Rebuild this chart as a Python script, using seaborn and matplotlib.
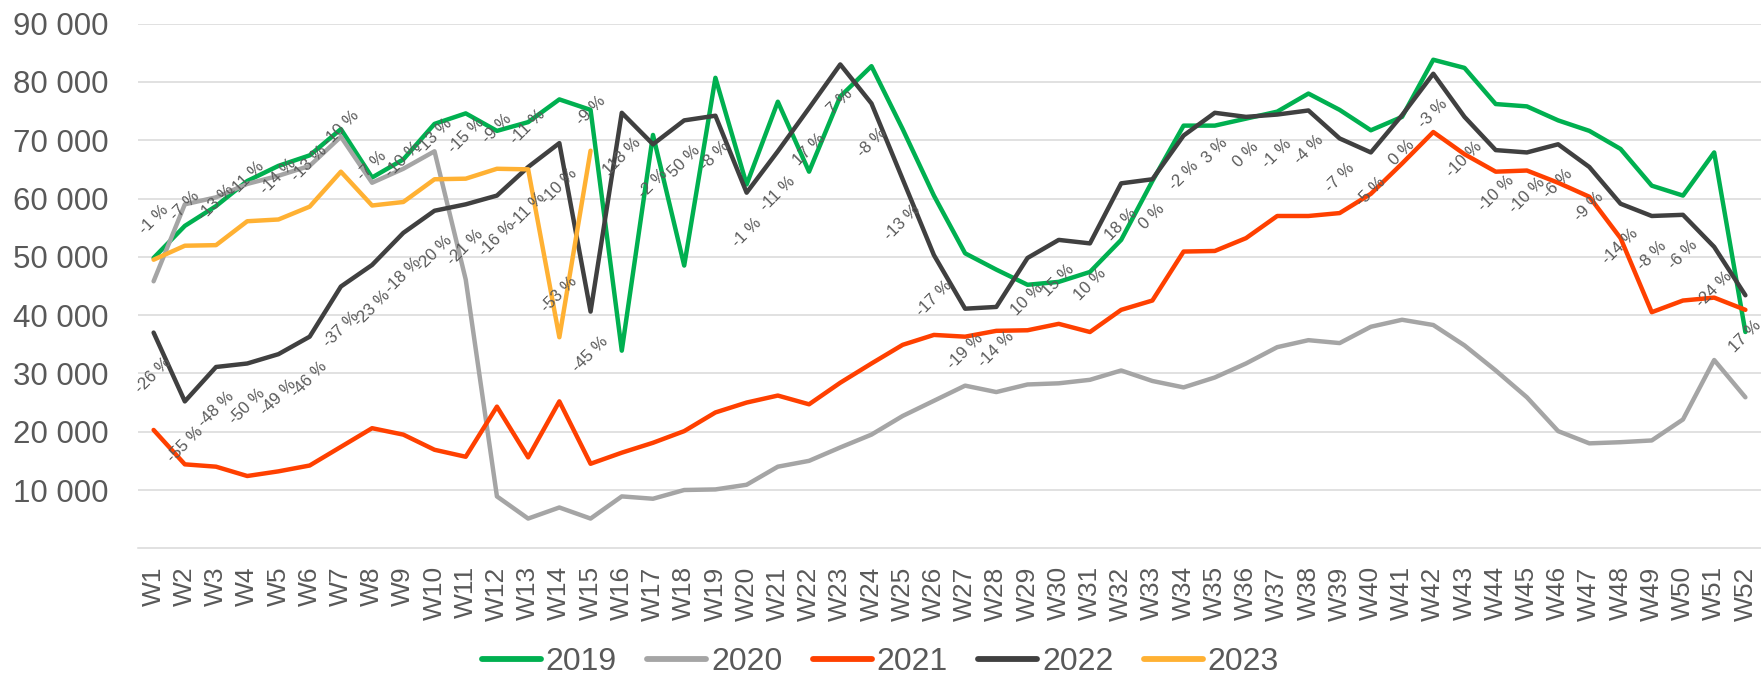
import matplotlib
matplotlib.use("Agg")
import matplotlib.pyplot as plt
import seaborn as sns
import pandas as pd
import numpy as np

weeks = [f"W{i}" for i in range(1, 53)]

y2019 = [49800, 55300, 58700, 63000, 65600, 67400, 71900, 63600, 66700, 72800,
         74600, 71600, 73100, 77000, 75200, 33900, 70900, 48500, 80700, 62400,
         76600, 64600, 77500, 82700, 71900, 60500, 50600, 47800, 45200, 45700,
         47400, 52900, 63000, 72500, 72500, 73700, 74900, 78000, 75200, 71700,
         74000, 83800, 82400, 76200, 75800, 73400, 71600, 68500, 62200, 60500,
         67900, 37100]
y2020 = [45800, 59000, 60200, 62500, 63900, 65600, 70600, 62700, 65100, 68100,
         46100, 8900, 5100, 7000, 5100, 8900, 8500, 10000, 10100, 10900,
         14000, 15000, 17300, 19500, 22700, 25300, 27900, 26800, 28100, 28300,
         28900, 30500, 28700, 27600, 29300, 31700, 34500, 35700, 35200, 38000,
         39200, 38300, 34800, 30500, 25900, 20100, 18000, 18200, 18500, 22100,
         32300, 25900]
y2021 = [20300, 14400, 14000, 12400, 13200, 14200, 17400, 20600, 19500, 16900,
         15700, 24300, 15600, 25200, 14500, 16400, 18100, 20100, 23300, 25000,
         26200, 24700, 28400, 31700, 34900, 36600, 36300, 37300, 37400, 38500,
         37100, 40900, 42500, 50900, 51000, 53200, 57000, 57000, 57500, 60800,
         66000, 71400, 67600, 64600, 64800, 62700, 60300, 53200, 40500, 42500,
         43000, 40900]
y2022 = [37000, 25200, 31100, 31700, 33300, 36300, 44900, 48600, 54100, 57900,
         59000, 60500, 65400, 69500, 40600, 74700, 69300, 73400, 74200, 61000,
         68100, 75500, 83000, 76300, 63300, 50300, 41100, 41400, 49800, 52900,
         52300, 62600, 63300, 70800, 74700, 74000, 74400, 75100, 70300, 67900,
         74300, 81400, 74000, 68300, 67900, 69300, 65400, 59100, 57000, 57200,
         51700, 43400]
y2023 = [49500, 51900, 52000, 56100, 56400, 58600, 64600, 58800, 59400, 63300,
         63400, 65100, 65000, 36200, 68200]

labels2022 = ["-26 %", "-55 %", "-48 %", "-50 %", "-49 %", "-46 %", "-37 %", "-23 %",
              "-18 %", "-20 %", "-21 %", "-16 %", "-11 %", "-10 %", "-45 %", "118 %",
              "-2 %", "50 %", "-8 %", "-1 %", "-11 %", "17 %", "7 %", "-8 %", "-13 %",
              "-17 %", "-19 %", "-14 %", "10 %", "15 %", "10 %", "18 %", "0 %", "-2 %",
              "3 %", "0 %", "-1 %", "-4 %", "-7 %", "-5 %", "0 %", "-3 %", "-10 %",
              "-10 %", "-10 %", "-6 %", "-9 %", "-14 %", "-8 %", "-6 %", "-24 %", "17 %"]
labels2023 = ["-1 %", "-7 %", "-13 %", "-11 %", "-14 %", "-13 %", "-10 %", "-7 %",
              "-10 %", "-13 %", "-15 %", "-9 %", "-11 %", "-53 %", "-9 %"]

years = ["2019", "2020", "2021", "2022", "2023"]
series = [y2019, y2020, y2021, y2022, y2023]
colors = ["#00B050", "#A5A5A5", "#FF4000", "#404040", "#FFB133"]
yticks = [10000, 20000, 30000, 40000, 50000, 60000, 70000, 80000, 90000]

rows = []
for yr, vals in zip(years, series):
    for i, v in enumerate(vals):
        rows.append({"idx": i, "week": weeks[i], "year": yr, "value": v})
df = pd.DataFrame(rows)

sns.set_theme(style="white")
plt.rcParams["font.family"] = ["Liberation Sans", "DejaVu Sans"]

W, H = 1761, 676
fig = plt.figure(figsize=(W / 100, H / 100), dpi=100)
ax = fig.add_axes([138 / W, 1 - 548.3 / H, 1 - 138 / W, (548.3 - 23.6) / H])

sns.lineplot(data=df, x="idx", y="value", hue="year", hue_order=years,
             palette=dict(zip(years, colors)), linewidth=3.2, ax=ax,
             sort=False, estimator=None, legend=True)
for ln in ax.get_lines():
    ln.set_solid_capstyle("round")
    ln.set_solid_joinstyle("round")

ax.set_xlim(-0.5, 51.5)
ax.set_ylim(0, 90000)
ax.set_yticks(yticks)
ax.set_yticklabels([f"{v:,}".replace(",", " ") for v in yticks])
ax.set_xticks(range(len(weeks)))
ax.set_xticklabels(weeks, rotation=90)
ax.tick_params(axis="y", labelsize=22.5, colors="#595959", pad=21, length=0)
ax.tick_params(axis="x", labelsize=19, colors="#595959", pad=13, length=0)
ax.set_xlabel("")
ax.set_ylabel("")
ax.grid(axis="y", color="#D9D9D9", linewidth=1.1)
ax.set_axisbelow(True)
for s in ["top", "right", "left"]:
    ax.spines[s].set_visible(False)
ax.spines["bottom"].set_color("#D9D9D9")
ax.spines["bottom"].set_linewidth(1.1)

for i, lab in enumerate(labels2022):
    ax.annotate(lab, (i, y2022[i]), xytext=(0, -16), textcoords="offset points",
                rotation=45, ha="center", va="top", fontsize=12, color="#595959",
                zorder=10)
for i, lab in enumerate(labels2023):
    ax.annotate(lab, (i, y2023[i]), xytext=(0, 16), textcoords="offset points",
                rotation=45, ha="center", va="bottom", fontsize=12, color="#595959",
                zorder=10)

handles, labs = ax.get_legend_handles_labels()
if ax.get_legend() is not None:
    ax.get_legend().remove()
for h in handles:
    h.set_linewidth(4.2)
    h.set_solid_capstyle("round")
fig.legend(handles, labs, loc="center", bbox_to_anchor=(0.5, 14 / H), ncol=5,
           frameon=False, fontsize=23, labelcolor="#595959", handlelength=1.85,
           handletextpad=0.15, columnspacing=0.95, borderaxespad=0)

fig.savefig("out.png", dpi=100)
